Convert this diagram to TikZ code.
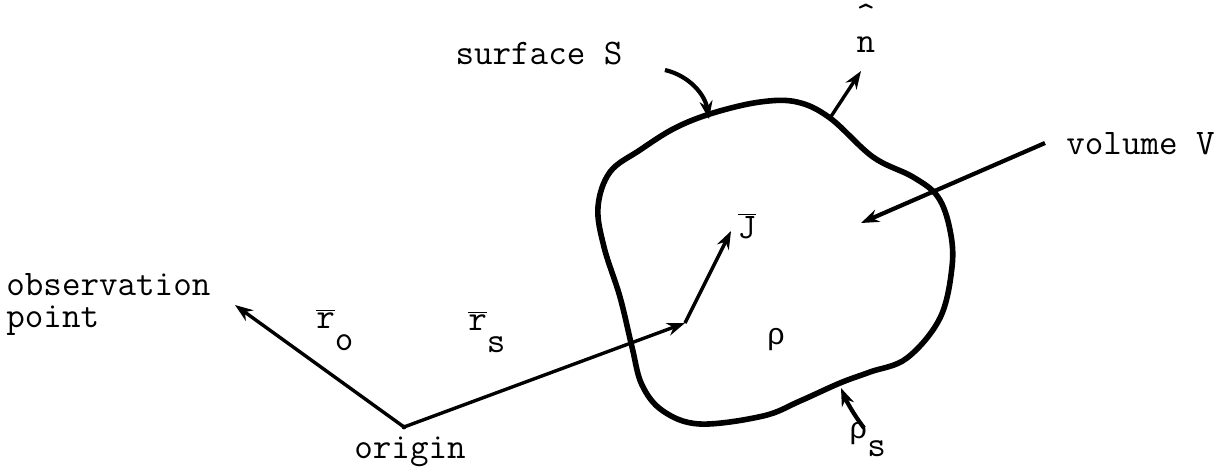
\documentclass[tikz,border=0pt]{standalone}
\usepackage{fontspec}
\newfontfamily\greek{Liberation Mono}
\usetikzlibrary{arrows.meta}
\newcommand{\ovl}[1]{$\overline{\mbox{#1}}$}
\newcommand{\rhoglyph}{{\greek\fontsize{15}{15}\selectfont ρ}}
\begin{document}
\begin{tikzpicture}[x=0.5pt,y=-0.5pt,
  lbl/.style={font=\ttfamily\fontsize{18}{16}\selectfont, inner sep=0pt},
  vec/.style={line width=1.7pt, -{Stealth[length=9pt,width=6.5pt]}},
  blobline/.style={line width=2.8pt, line join=round}]
\useasboundingbox (0,0) rectangle (1222,468);
% volume boundary
\draw[blobline] plot[smooth cycle, tension=0.6] coordinates {
 (713,113) (760,102) (797,102) (830,118) (873,157) (913,177) (938,197)
 (950,230) (952,267) (940,318) (907,358) (870,372) (840,383) (800,401)
 (763,416) (700,424) (663,411) (642,385) (632,347) (620,297) (604,247)
 (598,207) (610,172) (640,150) (675,128)};
% named points
\coordinate (O) at (404,427);
\coordinate (obs) at (235,305);
\coordinate (src) at (685,323);
\coordinate (Jtip) at (731,231);
\coordinate (nbase) at (830,118);
\coordinate (ntip) at (861,71);
\coordinate (Stail) at (665,70);
\coordinate (Shead) at (709,119);
\coordinate (Vtail) at (1045,143);
\coordinate (Vhead) at (861,223);
\coordinate (pstail) at (864,428);
\coordinate (pshead) at (841,388);
% labels
\node[lbl] (surf) at (539,53) {surface S};
\node[lbl, anchor=base] (nhat) at (866,52) {\makebox[0pt][l]{\raisebox{13pt}{\^{}}}n};
\node[lbl, anchor=west] (vol) at (1066,144) {volume V};
\node[lbl, anchor=west, align=left] (obstxt) at (6,304) {observation\\point};
\node[lbl] (orig) at (410,452) {origin};
\node[lbl, anchor=west] (ro) at (316,330) {\ovl{r}\raisebox{-11pt}{o}};
\node[lbl, anchor=west] (rs) at (468,332) {\ovl{r}\raisebox{-11pt}{s}};
\node[lbl] (J) at (747,226) {\ovl{J}};
\node[lbl] (rho) at (776,340) {\rhoglyph};
\node[lbl, anchor=west] (rhos) at (849,440) {\rhoglyph\raisebox{-9pt}{s}};
% vectors
\fill (O) circle (2.4);
\draw[vec] (O) -- (obs);
\draw[vec] (O) -- (src);
\draw[vec] (src) -- (Jtip);
\draw[vec] (nbase) -- (ntip);
\draw[vec, line width=2.1pt] (Stail) .. controls (690,76) and (705,95) .. (Shead);
\draw[vec, line width=2.1pt] (Vtail) -- (Vhead);
\draw[vec, line width=2.1pt] (pstail) .. controls (852,412) and (846,400) .. (pshead);
\end{tikzpicture}
\end{document}
